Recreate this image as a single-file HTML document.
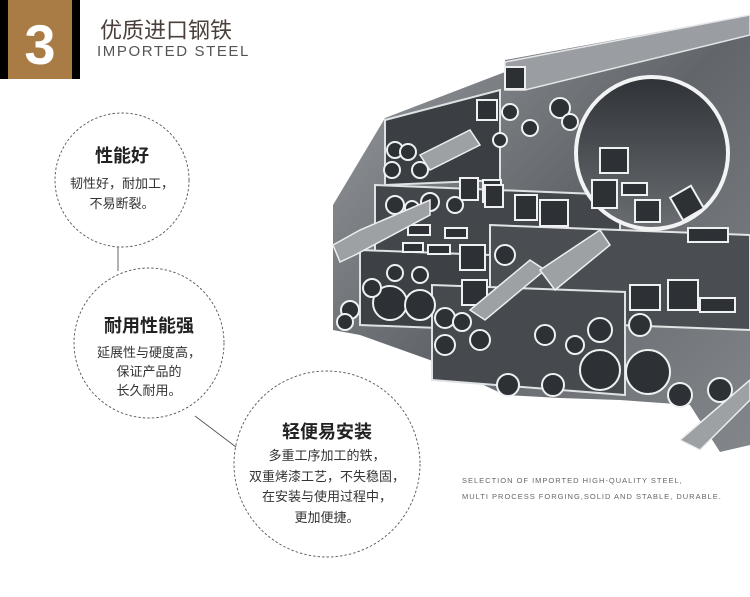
<!DOCTYPE html>
<html><head><meta charset="utf-8"><style>
body{margin:0;width:750px;height:597px;background:#fff;position:relative;overflow:hidden;font-family:"Liberation Sans","Noto Sans CJK SC",sans-serif}
.t{position:absolute;white-space:nowrap;text-align:center}
</style></head><body>
<svg width="750" height="597" style="position:absolute;left:0;top:0">
<defs>
<linearGradient id="g1" x1="0" y1="0" x2="1" y2="1"><stop offset="0" stop-color="#9a9da1"/><stop offset=".5" stop-color="#62666b"/><stop offset="1" stop-color="#83868a"/></linearGradient>
<linearGradient id="g2" x1="0" y1="0" x2="0" y2="1"><stop offset="0" stop-color="#2f3337"/><stop offset="1" stop-color="#6a6e72"/></linearGradient>
</defs>
<rect x="0" y="0" width="80" height="79" fill="#000"/>
<rect x="8" y="0" width="64" height="79" fill="#a87c44"/>
<text x="40" y="64" font-family="Liberation Sans" font-weight="bold" font-size="56" fill="#fff" text-anchor="middle">3</text>
<!-- steel mass -->
<polygon points="333,205 385,118 505,72 505,60 750,15 750,445 720,452 690,405 620,400 560,398 505,395 430,360 360,335 333,330" fill="url(#g1)"/>
<polygon points="385,120 500,90 500,180 385,185" fill="#3b3f43" stroke="#dfe2e4" stroke-width="2"/>
<polygon points="375,185 620,195 620,280 375,270" fill="#43474b" stroke="#dfe2e4" stroke-width="2"/>
<polygon points="490,225 750,235 750,330 490,320" fill="#4a4e52" stroke="#e2e4e6" stroke-width="2"/>
<polygon points="360,250 490,255 490,330 360,325" fill="#3d4145" stroke="#dfe2e4" stroke-width="2"/>
<polygon points="432,285 625,292 625,395 432,380" fill="#464a4e" stroke="#dfe2e4" stroke-width="2"/>
<polygon points="505,62 750,15 750,35 525,90 505,90" fill="#9a9da1" stroke="#e4e6e8" stroke-width="1.5"/>
<rect x="505" y="67" width="20" height="22" fill="#2c3034" stroke="#eee" stroke-width="2"/>
<circle cx="652" cy="153" r="76" fill="url(#g2)" stroke="#f2f3f4" stroke-width="4"/>
<g fill="#2d3135" stroke="#eef0f1" stroke-width="2">
<rect x="477" y="100" width="20" height="20"/><rect x="600" y="148" width="28" height="25"/><rect x="592" y="180" width="25" height="28"/>
<rect x="622" y="183" width="25" height="12"/><rect x="635" y="200" width="25" height="22"/><rect x="675" y="190" width="24" height="26" transform="rotate(-30 687 203)"/>
<rect x="483" y="180" width="18" height="22"/><rect x="460" y="178" width="18" height="22"/><rect x="515" y="195" width="22" height="25"/>
<rect x="540" y="200" width="28" height="26"/><rect x="408" y="225" width="22" height="10"/><rect x="445" y="228" width="22" height="10"/>
<rect x="403" y="243" width="20" height="9"/><rect x="428" y="245" width="22" height="9"/><rect x="460" y="245" width="25" height="25"/>
<rect x="462" y="280" width="25" height="25"/><rect x="630" y="285" width="30" height="25"/><rect x="668" y="280" width="30" height="30"/>
<rect x="700" y="298" width="35" height="14"/><rect x="688" y="228" width="40" height="14"/><rect x="485" y="185" width="18" height="22"/>
<circle cx="395" cy="150" r="8"/><circle cx="408" cy="152" r="8"/><circle cx="392" cy="170" r="8"/><circle cx="420" cy="170" r="8"/>
<circle cx="395" cy="205" r="9"/><circle cx="412" cy="208" r="7"/><circle cx="430" cy="202" r="9"/><circle cx="455" cy="205" r="8"/>
<circle cx="350" cy="310" r="9"/><circle cx="345" cy="322" r="8"/><circle cx="390" cy="303" r="17"/><circle cx="420" cy="305" r="15"/>
<circle cx="372" cy="288" r="9"/><circle cx="395" cy="273" r="8"/><circle cx="420" cy="275" r="8"/>
<circle cx="445" cy="318" r="10"/><circle cx="462" cy="322" r="9"/><circle cx="445" cy="345" r="10"/><circle cx="480" cy="340" r="10"/>
<circle cx="508" cy="385" r="11"/><circle cx="553" cy="385" r="11"/><circle cx="600" cy="370" r="20"/><circle cx="648" cy="372" r="22"/>
<circle cx="680" cy="395" r="12"/><circle cx="600" cy="330" r="12"/><circle cx="640" cy="325" r="11"/><circle cx="505" cy="255" r="10"/>
<circle cx="560" cy="108" r="10"/><circle cx="510" cy="112" r="8"/><circle cx="530" cy="128" r="8"/><circle cx="570" cy="122" r="8"/><circle cx="500" cy="140" r="7"/>
<circle cx="545" cy="335" r="10"/><circle cx="575" cy="345" r="9"/><circle cx="720" cy="390" r="12"/>
</g>
<g fill="#9ea1a4" stroke="#eceef0" stroke-width="1.5">
<polygon points="333,245 360,230 430,200 430,215 355,255 340,262"/>
<polygon points="470,310 530,260 545,270 485,320"/>
<polygon points="540,270 600,230 610,245 555,290"/>
<polygon points="680,440 750,380 750,400 700,450"/>
<polygon points="420,155 470,130 480,145 430,170"/>
</g>
<!-- circles -->
<g fill="none" stroke="#555" stroke-width="0.9" stroke-dasharray="2.5,2">
<circle cx="122" cy="180" r="67"/><circle cx="149" cy="343" r="75"/><circle cx="327" cy="464" r="93"/>
</g>
<line x1="118" y1="247" x2="118" y2="271" stroke="#555" stroke-width="0.9"/>
<line x1="195" y1="416" x2="236" y2="447" stroke="#555" stroke-width="0.9"/>
</svg>
<div class="t" style="left:100px;top:13px;font-size:22px;color:#4a3f3a">优质进口钢铁</div>
<div class="t" style="left:97px;top:43px;font-size:15px;letter-spacing:1.6px;color:#555">IMPORTED STEEL</div>

<div class="t" style="left:42px;width:160px;top:142px;font-size:18px;font-weight:bold;color:#222">性能好</div>
<div class="t" style="left:42px;width:160px;top:174px;font-size:13px;line-height:20px;color:#333">韧性好，耐加工，<br>不易断裂。</div>

<div class="t" style="left:69px;width:160px;top:312px;font-size:18px;font-weight:bold;color:#222">耐用性能强</div>
<div class="t" style="left:69px;width:160px;top:343px;font-size:13px;line-height:19px;color:#333">延展性与硬度高，<br>保证产品的<br>长久耐用。</div>

<div class="t" style="left:227px;width:200px;top:418px;font-size:18px;font-weight:bold;color:#222">轻便易安装</div>
<div class="t" style="left:227px;width:200px;top:446px;font-size:13px;line-height:20.5px;color:#333">多重工序加工的铁，<br>双重烤漆工艺，不失稳固，<br>在安装与使用过程中，<br>更加便捷。</div>

<div class="t" style="left:462px;top:473px;font-size:7.5px;letter-spacing:1px;color:#666;text-align:left;line-height:16px">SELECTION OF IMPORTED HIGH-QUALITY STEEL,<br>MULTI PROCESS FORGING,SOLID AND STABLE, DURABLE.</div>
</body></html>
